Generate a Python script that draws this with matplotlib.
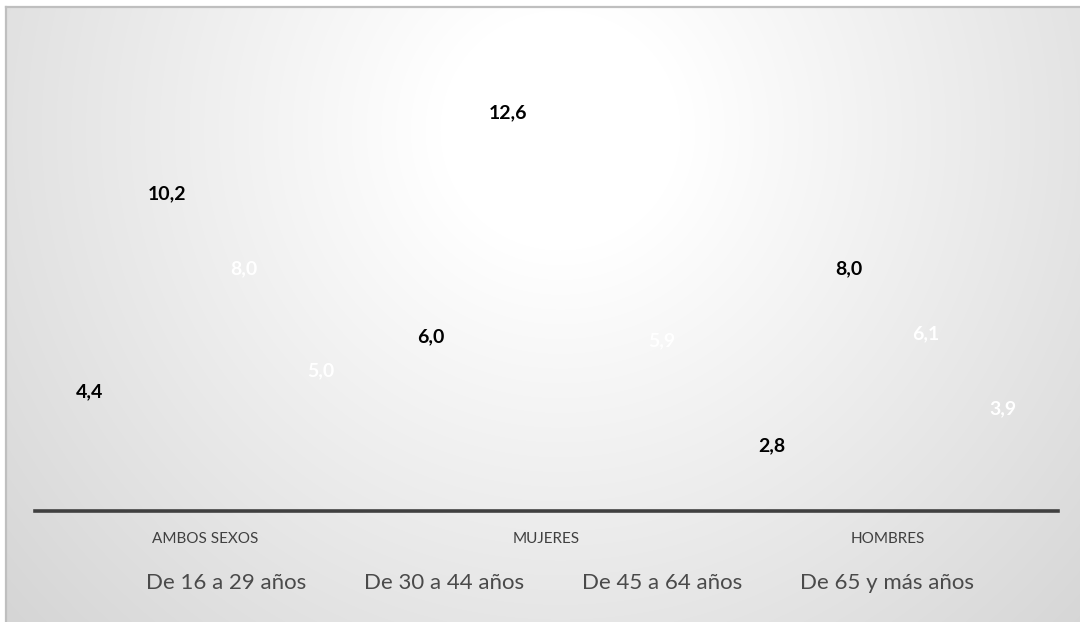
import numpy as np
import matplotlib
matplotlib.use("Agg")
import matplotlib.pyplot as plt
from matplotlib.patches import Patch
from matplotlib.lines import Line2D

plt.rcParams['font.family'] = ['Lato', 'DejaVu Sans']

categories = ["AMBOS SEXOS", "MUJERES", "HOMBRES"]
series_names = ["De 16 a 29 años", "De 30 a 44 años", "De 45 a 64 años", "De 65 y más años"]
edad_16_29 = [4.4, 6.0, 2.8]
edad_30_44 = [10.2, 12.6, 8.0]
edad_45_64 = [8.0, 9.8, 6.1]
edad_65_mas = [5.0, 5.9, 3.9]
label_colors = ["black", "black", "white", "white"]

series = [edad_16_29, edad_30_44, edad_45_64, edad_65_mas]

W, H = 1080, 622
fig = plt.figure(figsize=(W / 100, H / 100), dpi=100)
fig.patch.set_facecolor("white")

# soft radial background, white over the upper centre
bg = fig.add_axes([6 / W, 0, 1 - 6 / W, 1 - 7 / H])
bg.set_axis_off()
yy, xx = np.mgrid[7:H, 6:W]
d = np.hypot(xx - 560, yy - 130)
shade = 1 - 0.17 * np.clip((d - 120) / 640, 0, 1.1)
rgb = np.dstack([shade] * 3)
bg.imshow(rgb, aspect="auto", interpolation="bilinear")
fig.add_artist(Line2D([6 / W, 1], [1 - 7 / H, 1 - 7 / H], color="#bfbfbf", lw=1.6))
fig.add_artist(Line2D([6 / W, 6 / W], [0, 1 - 7 / H], color="#bfbfbf", lw=1.6))

ax = fig.add_axes([35 / W, (H - 511) / H, (1058 - 35) / W, (511 - 35) / H])
ax.patch.set_alpha(0)

x = np.arange(len(categories))
width = 0.226
offsets = (np.arange(len(series)) - 1.5) * width

for vals, off, name, col in zip(series, offsets, series_names, label_colors):
    bars = ax.bar(x + off, vals, width, color="none", edgecolor="none", label=name)
    for rect, v in zip(bars, vals):
        ax.annotate(f"{v:.1f}".replace(".", ","),
                    (rect.get_x() + rect.get_width() / 2, v),
                    xytext=(0, -30), textcoords="offset pixels",
                    ha="center", va="center", fontsize=14, fontweight="bold",
                    color=col)

ax.set_xlim(-0.5, 2.5)
ax.set_ylim(0, 14)
ax.set_yticks([])
ax.set_xticks(x)
ax.set_xticklabels(categories, fontsize=11, color="#404040")
ax.tick_params(axis="x", length=0, pad=15)
for s in ["top", "left", "right"]:
    ax.spines[s].set_visible(False)
ax.spines["bottom"].set_color("#404040")
ax.spines["bottom"].set_linewidth(2.6)

handles = [Patch(facecolor="none", edgecolor="none") for _ in series_names]
fig.legend(handles, series_names, loc="center", bbox_to_anchor=(560 / W, (H - 583) / H),
           ncol=4, frameon=False, handlelength=0, handletextpad=0,
           columnspacing=2.6, fontsize=16, labelcolor="#4a4a4a")

fig.savefig("out.png", dpi=100)
